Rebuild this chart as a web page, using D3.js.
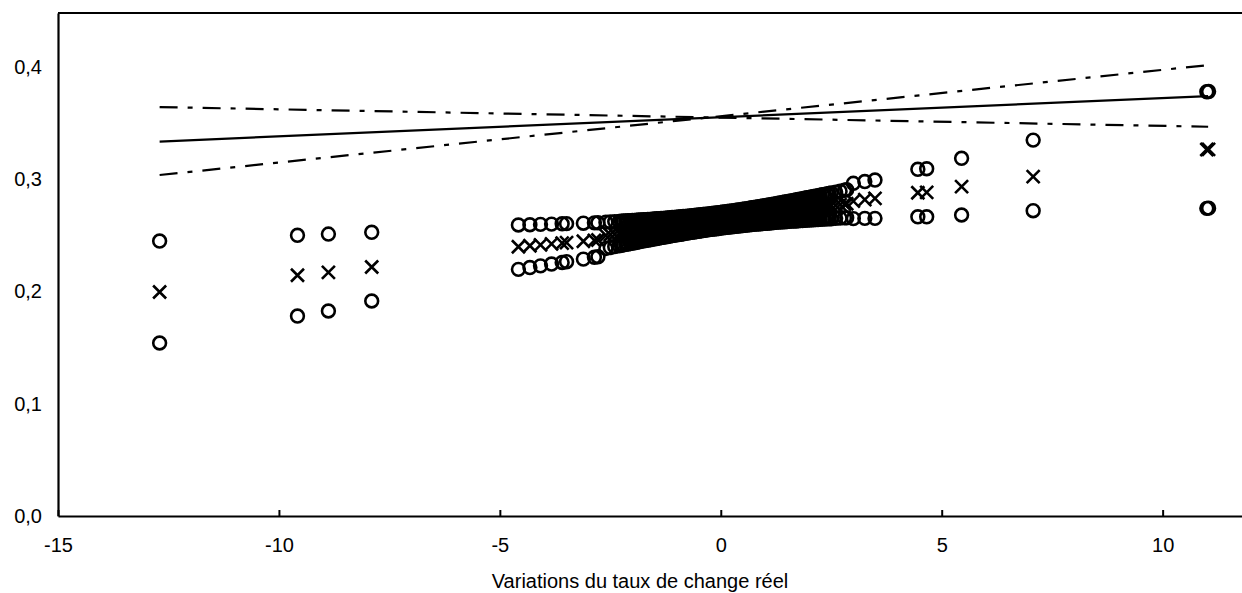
<!DOCTYPE html>
<html>
<head>
<meta charset="utf-8">
<script src="https://cdn.jsdelivr.net/npm/d3@7"></script>
<style>
  html, body { margin: 0; padding: 0; background: #fff; }
  svg { display: block; }
  text { font-family: "Liberation Sans", Arial, sans-serif; fill: #000; }
</style>
</head>
<body>
<svg id="chart" width="1242" height="593"></svg>
<script>
// ---------- data ----------
const xTickValues = [-15, -10, -5, 0, 5, 10];
const yTickValues = [0, 0.1, 0.2, 0.3, 0.4];
const xAxisTitle = "Variations du taux de change réel";

// observations: x, upper interval (circle), fitted (cross), lower interval (circle)
const pointX = [
  -12.7, -9.58, -8.88, -7.90,
  -4.58, -4.32, -4.08, -3.83, -3.59, -3.49, -3.11, -2.86, -2.78,
  -2.60, -2.50, -2.40, -2.30, -2.25, -2.20, -2.15, -2.10, -2.05, -2.00,
  -1.95, -1.90, -1.85, -1.80, -1.75, -1.70, -1.65, -1.60, -1.55, -1.50,
  -1.45, -1.40, -1.35, -1.30, -1.25, -1.20, -1.15, -1.10, -1.05, -1.00,
  -0.95, -0.90, -0.85, -0.80, -0.75, -0.70, -0.65, -0.60, -0.55, -0.50,
  -0.45, -0.40, -0.35, -0.30, -0.25, -0.20, -0.15, -0.10, -0.05, 0.00,
  0.05, 0.10, 0.15, 0.20, 0.25, 0.30, 0.35, 0.40, 0.45, 0.50,
  0.55, 0.60, 0.65, 0.70, 0.75, 0.80, 0.85, 0.90, 0.95, 1.00,
  1.05, 1.10, 1.15, 1.20, 1.25, 1.30, 1.35, 1.40, 1.45, 1.50,
  1.55, 1.60, 1.65, 1.70, 1.75, 1.80, 1.85, 1.90, 1.95, 2.00,
  2.05, 2.10, 2.15, 2.20, 2.25, 2.30, 2.35, 2.40, 2.45, 2.50,
  2.60, 2.70, 2.80, 2.85,
  3.00, 3.26, 3.49,
  4.46, 4.66, 5.45, 7.07, 11.00, 11.04
];
const upperCI = [
  0.2449, 0.2500, 0.2511, 0.2527,
  0.2592, 0.2594, 0.2597, 0.2600, 0.2603, 0.2604, 0.2608, 0.2611, 0.2612,
  0.2617, 0.2620, 0.2622, 0.2624, 0.2626, 0.2627, 0.2628, 0.2629, 0.2630, 0.2632,
  0.2633, 0.2634, 0.2636, 0.2637, 0.2638, 0.2640, 0.2641, 0.2642, 0.2644, 0.2645,
  0.2647, 0.2648, 0.2650, 0.2651, 0.2653, 0.2655, 0.2656, 0.2658, 0.2660, 0.2661,
  0.2663, 0.2665, 0.2667, 0.2669, 0.2671, 0.2672, 0.2674, 0.2676, 0.2679, 0.2681,
  0.2683, 0.2685, 0.2687, 0.2689, 0.2692, 0.2694, 0.2697, 0.2699, 0.2701, 0.2704,
  0.2707, 0.2709, 0.2712, 0.2715, 0.2718, 0.2720, 0.2723, 0.2726, 0.2729, 0.2732,
  0.2735, 0.2738, 0.2741, 0.2745, 0.2748, 0.2751, 0.2754, 0.2758, 0.2761, 0.2764,
  0.2768, 0.2771, 0.2775, 0.2778, 0.2782, 0.2785, 0.2789, 0.2793, 0.2796, 0.2800,
  0.2804, 0.2807, 0.2811, 0.2815, 0.2819, 0.2822, 0.2826, 0.2830, 0.2834, 0.2838,
  0.2842, 0.2846, 0.2849, 0.2853, 0.2857, 0.2861, 0.2865, 0.2869, 0.2873, 0.2877,
  0.2885, 0.2893, 0.2901, 0.2906,
  0.2963, 0.2979, 0.2992,
  0.3088, 0.3093, 0.3186, 0.3348, 0.3779, 0.3781
];
const fitted = [
  0.1995, 0.2144, 0.2170, 0.2218,
  0.2398, 0.2407, 0.2415, 0.2423, 0.2431, 0.2435, 0.2447, 0.2455, 0.2458,
  0.2500, 0.2505, 0.2510, 0.2516, 0.2518, 0.2521, 0.2523, 0.2526, 0.2528, 0.2531,
  0.2534, 0.2536, 0.2539, 0.2541, 0.2544, 0.2547, 0.2549, 0.2552, 0.2554, 0.2557,
  0.2559, 0.2562, 0.2565, 0.2567, 0.2570, 0.2572, 0.2575, 0.2577, 0.2580, 0.2583,
  0.2585, 0.2588, 0.2590, 0.2593, 0.2595, 0.2598, 0.2601, 0.2603, 0.2606, 0.2608,
  0.2611, 0.2613, 0.2616, 0.2619, 0.2621, 0.2624, 0.2626, 0.2629, 0.2631, 0.2634,
  0.2637, 0.2639, 0.2642, 0.2644, 0.2647, 0.2650, 0.2652, 0.2655, 0.2657, 0.2660,
  0.2662, 0.2665, 0.2668, 0.2670, 0.2673, 0.2675, 0.2678, 0.2680, 0.2683, 0.2686,
  0.2688, 0.2691, 0.2693, 0.2696, 0.2698, 0.2701, 0.2704, 0.2706, 0.2709, 0.2711,
  0.2714, 0.2716, 0.2719, 0.2722, 0.2724, 0.2727, 0.2729, 0.2732, 0.2734, 0.2737,
  0.2740, 0.2742, 0.2745, 0.2747, 0.2750, 0.2753, 0.2755, 0.2758, 0.2760, 0.2763,
  0.2768, 0.2773, 0.2778, 0.2781,
  0.2805, 0.2818, 0.2829,
  0.2879, 0.2882, 0.2933, 0.3022, 0.3264, 0.3266
];
const lowerCI = [
  0.1541, 0.1781, 0.1826, 0.1915,
  0.2197, 0.2213, 0.2228, 0.2244, 0.2258, 0.2265, 0.2288, 0.2304, 0.2309,
  0.2383, 0.2391, 0.2399, 0.2407, 0.2411, 0.2415, 0.2419, 0.2423, 0.2426, 0.2430,
  0.2434, 0.2438, 0.2442, 0.2446, 0.2450, 0.2453, 0.2457, 0.2461, 0.2464, 0.2468,
  0.2472, 0.2476, 0.2479, 0.2483, 0.2486, 0.2490, 0.2493, 0.2497, 0.2500, 0.2504,
  0.2507, 0.2510, 0.2514, 0.2517, 0.2520, 0.2524, 0.2527, 0.2530, 0.2533, 0.2536,
  0.2539, 0.2542, 0.2545, 0.2548, 0.2551, 0.2553, 0.2556, 0.2559, 0.2561, 0.2564,
  0.2567, 0.2569, 0.2572, 0.2574, 0.2576, 0.2579, 0.2581, 0.2583, 0.2585, 0.2587,
  0.2590, 0.2592, 0.2594, 0.2596, 0.2598, 0.2600, 0.2601, 0.2603, 0.2605, 0.2607,
  0.2608, 0.2610, 0.2612, 0.2613, 0.2615, 0.2617, 0.2618, 0.2620, 0.2621, 0.2623,
  0.2624, 0.2626, 0.2627, 0.2628, 0.2630, 0.2631, 0.2632, 0.2634, 0.2635, 0.2636,
  0.2638, 0.2639, 0.2640, 0.2641, 0.2643, 0.2644, 0.2645, 0.2646, 0.2647, 0.2648,
  0.2651, 0.2653, 0.2655, 0.2656,
  0.2649, 0.2651, 0.2651,
  0.2665, 0.2665, 0.2681, 0.2719, 0.2740, 0.2742
];

// straight reference lines: endpoints at lineX
const lineX = [-12.7, 11.03];
const solidLine = [0.3335, 0.3740];
const risingDashDot = [0.3037, 0.4016];
const fallingDashDot = [0.3642, 0.3467];

// ---------- drawing ----------
const svg = d3.select("#chart");
const x = d3.scaleLinear().domain([-15, 12]).range([58, 1251]);
const y = d3.scaleLinear().domain([0, 0.448]).range([516, 13]);
const fontSize = 20;

// frame top line
svg.append("line")
  .attr("x1", x(-15)).attr("x2", x(12))
  .attr("y1", y(0.448)).attr("y2", y(0.448))
  .attr("stroke", "#000").attr("stroke-width", 2.2);

// x axis
const xAxis = svg.append("g")
  .attr("transform", `translate(0,${y(0)})`)
  .call(d3.axisBottom(x).tickValues(xTickValues).tickSizeInner(-6).tickSizeOuter(0)
        .tickPadding(22).tickFormat(d3.format("d")));
xAxis.select(".domain").attr("stroke-width", 2.2);
xAxis.selectAll(".tick line").attr("stroke-width", 2);
xAxis.selectAll(".tick text").attr("font-size", fontSize).attr("font-family", "Liberation Sans, Arial, sans-serif")
  .text(d => d < 0 ? "-" + Math.abs(d) : String(d));

// y axis
const yAxis = svg.append("g")
  .attr("transform", `translate(${x(-15)},0)`)
  .call(d3.axisLeft(y).tickValues(yTickValues).tickSize(0).tickPadding(16)
        .tickFormat(d => d3.format(".1f")(d).replace(".", ",")));
yAxis.select(".domain").attr("stroke-width", 2.2);
yAxis.selectAll(".tick text").attr("font-size", fontSize).attr("font-family", "Liberation Sans, Arial, sans-serif");

// axis title
svg.append("text")
  .attr("x", 640).attr("y", 588)
  .attr("text-anchor", "middle")
  .attr("font-size", fontSize)
  .text(xAxisTitle);

// lines
const lineGen = d3.line().x(d => x(d[0])).y(d => y(d[1]));
function drawLine(vals, dash) {
  svg.append("path")
    .datum(lineX.map((xv, i) => [xv, vals[i]]))
    .attr("d", lineGen)
    .attr("fill", "none")
    .attr("stroke", "#000")
    .attr("stroke-width", 2.2)
    .attr("stroke-dasharray", dash);
}
drawLine(solidLine, null);
drawLine(risingDashDot, "18,10,5,10");
drawLine(fallingDashDot, "18,10,5,10");

// points
const pts = pointX.map((xv, i) => ({ x: xv, up: upperCI[i], fit: fitted[i], lo: lowerCI[i] }));
const markers = svg.append("g");
const r = 6.4, sw = 2.6;
pts.forEach(p => {
  markers.append("circle")
    .attr("cx", x(p.x)).attr("cy", y(p.up)).attr("r", r)
    .attr("fill", "none").attr("stroke", "#000").attr("stroke-width", sw);
  markers.append("circle")
    .attr("cx", x(p.x)).attr("cy", y(p.lo)).attr("r", r)
    .attr("fill", "none").attr("stroke", "#000").attr("stroke-width", sw);
  const cx = x(p.x), cy = y(p.fit), s = 6.5;
  markers.append("path")
    .attr("d", `M${cx - s},${cy - s}L${cx + s},${cy + s}M${cx - s},${cy + s}L${cx + s},${cy - s}`)
    .attr("stroke", "#000").attr("stroke-width", sw).attr("fill", "none");
});
</script>
</body>
</html>
